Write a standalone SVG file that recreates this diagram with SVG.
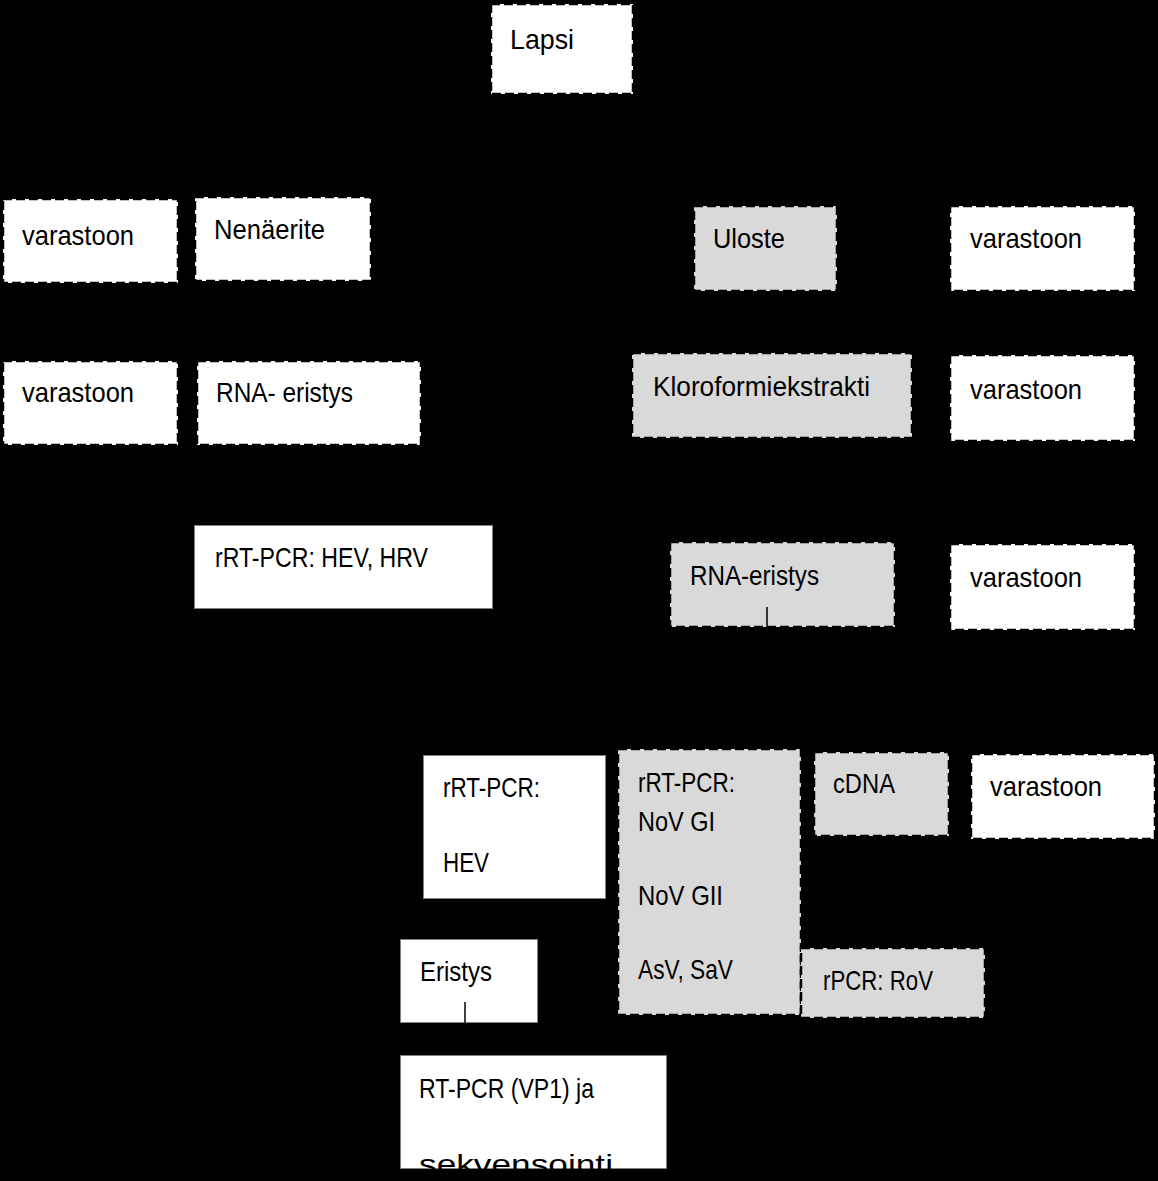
<svg xmlns="http://www.w3.org/2000/svg" width="1158" height="1181" viewBox="0 0 1158 1181">
<style>
.bg{fill:#000}
.dw{fill:#fff;stroke:#000;stroke-width:2.5;stroke-dasharray:9 4}
.dg{fill:#d9d9d9;stroke:#000;stroke-width:2.5;stroke-dasharray:9 4}
.sw{fill:#fff;stroke:#808080;stroke-width:1}
.t{font-family:"Liberation Sans",Arial,sans-serif;font-size:28px;fill:#000}
.c{stroke:#000;stroke-width:1.5;fill:none}
</style>
<rect class="bg" x="0" y="0" width="1158" height="1181"/>
<g id="lapsi"><rect class="dw" x="491" y="4" width="142" height="90"/><text class="t" x="510" y="49" textLength="64" lengthAdjust="spacingAndGlyphs">Lapsi</text></g>
<g id="varastoon1"><rect class="dw" x="3" y="199" width="175" height="84"/><text class="t" x="22" y="245" textLength="112" lengthAdjust="spacingAndGlyphs">varastoon</text></g>
<g id="nenaerite"><rect class="dw" x="195" y="197" width="176" height="84"/><text class="t" x="214" y="239" textLength="111" lengthAdjust="spacingAndGlyphs">Nenäerite</text></g>
<g id="uloste"><rect class="dg" x="694" y="206" width="143" height="85"/><text class="t" x="713" y="248" textLength="72" lengthAdjust="spacingAndGlyphs">Uloste</text></g>
<g id="varastoon2"><rect class="dw" x="950" y="206" width="185" height="85"/><text class="t" x="970" y="248" textLength="112" lengthAdjust="spacingAndGlyphs">varastoon</text></g>
<g id="varastoon3"><rect class="dw" x="3" y="361" width="175" height="84"/><text class="t" x="22" y="402" textLength="112" lengthAdjust="spacingAndGlyphs">varastoon</text></g>
<g id="rna-eristys-1"><rect class="dw" x="197" y="361" width="224" height="84"/><text class="t" x="216" y="402" textLength="137" lengthAdjust="spacingAndGlyphs">RNA- eristys</text></g>
<g id="kloroformiekstrakti"><rect class="dg" x="632" y="353" width="280" height="85"/><text class="t" x="653" y="396" textLength="217" lengthAdjust="spacingAndGlyphs">Kloroformiekstrakti</text></g>
<g id="varastoon4"><rect class="dw" x="950" y="355" width="185" height="86"/><text class="t" x="970" y="399" textLength="112" lengthAdjust="spacingAndGlyphs">varastoon</text></g>
<g id="rrtpcr-hev-hrv"><rect class="sw" x="194.5" y="525.5" width="298" height="83"/><text class="t" x="215" y="567" textLength="213" lengthAdjust="spacingAndGlyphs">rRT-PCR: HEV, HRV</text></g>
<g id="rna-eristys-2"><rect class="dg" x="670" y="542" width="225" height="85"/><text class="t" x="690" y="585" textLength="129" lengthAdjust="spacingAndGlyphs">RNA-eristys</text></g>
<g id="varastoon5"><rect class="dw" x="950" y="544" width="185" height="86"/><text class="t" x="970" y="587" textLength="112" lengthAdjust="spacingAndGlyphs">varastoon</text></g>
<g id="rrtpcr-hev"><rect class="sw" x="423.5" y="755.5" width="182" height="143"/><text class="t" x="443" y="797" textLength="97" lengthAdjust="spacingAndGlyphs">rRT-PCR:</text><text class="t" x="443" y="872" textLength="46" lengthAdjust="spacingAndGlyphs">HEV</text></g>
<g id="rrtpcr-nov"><rect class="dg" x="618" y="749" width="183" height="266"/><text class="t" x="638" y="792" textLength="97" lengthAdjust="spacingAndGlyphs">rRT-PCR:</text><text class="t" x="638" y="831" textLength="77" lengthAdjust="spacingAndGlyphs">NoV GI</text><text class="t" x="638" y="905" textLength="85" lengthAdjust="spacingAndGlyphs">NoV GII</text><text class="t" x="638" y="979" textLength="95" lengthAdjust="spacingAndGlyphs">AsV, SaV</text></g>
<g id="cdna"><rect class="dg" x="814" y="752" width="135" height="84"/><text class="t" x="833" y="793" textLength="62" lengthAdjust="spacingAndGlyphs">cDNA</text></g>
<g id="varastoon6"><rect class="dw" x="971" y="754" width="184" height="85"/><text class="t" x="990" y="796" textLength="112" lengthAdjust="spacingAndGlyphs">varastoon</text></g>
<g id="rpcr-rov"><rect class="dg" x="801" y="948" width="184" height="70"/><text class="t" x="823" y="990" textLength="110" lengthAdjust="spacingAndGlyphs">rPCR: RoV</text></g>
<g id="eristys"><rect class="sw" x="400.5" y="939.5" width="137" height="83"/><text class="t" x="420" y="981" textLength="72" lengthAdjust="spacingAndGlyphs">Eristys</text></g>
<g id="rtpcr-vp1"><rect class="sw" x="400.5" y="1055.5" width="266" height="113"/><text class="t" x="419" y="1098" textLength="175" lengthAdjust="spacingAndGlyphs">RT-PCR (VP1) ja</text><text class="t" x="419" y="1174" textLength="194" lengthAdjust="spacingAndGlyphs">sekvensointi</text></g>
<g id="connectors"><line class="c" x1="767" y1="607" x2="767" y2="627"/><line class="c" x1="465" y1="1002" x2="465" y2="1023"/></g>
</svg>
